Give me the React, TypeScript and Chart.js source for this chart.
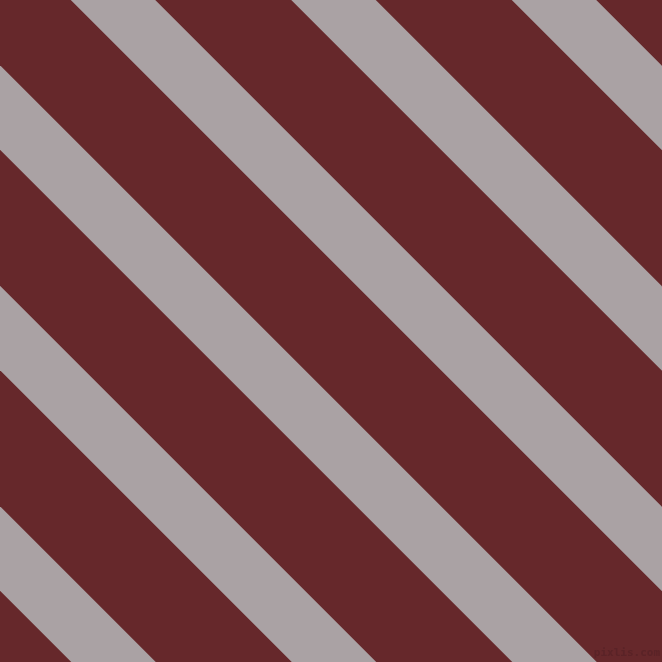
import React, { useEffect, useRef } from "react";
import { Chart, registerables } from "chart.js";

Chart.register(...registerables);

// Diagonal stripe boundaries, expressed as c in the line x - y = c (pixel units of the 662×662 plane)
const stripeStart: number[] = [-590.75, -370.25, -149.75, 70.75, 291.25, 511.75];
const stripeEnd: number[] = [-506.25, -285.75, -65.25, 155.25, 375.75, 596.25];
const lineXs: number[] = [-800, 1500];
const planeSize = 662;
const backgroundColor = "#66282b";
const stripeColor = "#aaa2a4";
const watermark = "pixlis.com";

export default function App() {
  const ref = useRef<HTMLCanvasElement | null>(null);

  useEffect(() => {
    document.body.style.margin = "0";
    const canvas = ref.current;
    if (!canvas) return;

    const datasets: any[] = [];
    stripeStart.forEach((c0, i) => {
      const c1 = stripeEnd[i];
      datasets.push({
        label: `s${i}a`,
        data: lineXs.map((x) => ({ x, y: x - c0 })),
        borderWidth: 0,
        borderColor: "rgba(0,0,0,0)",
        pointRadius: 0,
        fill: false,
      });
      datasets.push({
        label: `s${i}b`,
        data: lineXs.map((x) => ({ x, y: x - c1 })),
        borderWidth: 0,
        borderColor: "rgba(0,0,0,0)",
        backgroundColor: stripeColor,
        pointRadius: 0,
        fill: "-1",
      });
    });

    const bgPlugin = {
      id: "bg",
      beforeDraw(chart: any) {
        const { ctx, chartArea } = chart;
        ctx.save();
        ctx.fillStyle = backgroundColor;
        ctx.fillRect(chartArea.left, chartArea.top, chartArea.right - chartArea.left, chartArea.bottom - chartArea.top);
        ctx.restore();
      },
      afterDraw(chart: any) {
        const { ctx, chartArea } = chart;
        ctx.save();
        ctx.font = "bold 11px 'DejaVu Sans Mono', monospace";
        ctx.textAlign = "right";
        ctx.textBaseline = "bottom";
        ctx.fillStyle = "#5a2327";
        ctx.fillText(watermark, chartArea.right - 2, chartArea.bottom - 3);
        ctx.restore();
      },
    };

    const chart = new Chart(canvas, {
      type: "line",
      data: { datasets },
      options: {
        animation: false,
        responsive: false,
        maintainAspectRatio: false,
        layout: { padding: 0 },
        plugins: { legend: { display: false }, tooltip: { enabled: false }, title: { display: false } },
        elements: { line: { tension: 0 } },
        scales: {
          x: { type: "linear", min: 0, max: planeSize, display: false },
          y: { type: "linear", min: 0, max: planeSize, reverse: true, display: false },
        },
      },
      plugins: [bgPlugin],
    });

    return () => chart.destroy();
  }, []);

  return (
    <canvas
      ref={ref}
      width={planeSize}
      height={planeSize}
      style={{ display: "block", width: planeSize, height: planeSize }}
    />
  );
}
